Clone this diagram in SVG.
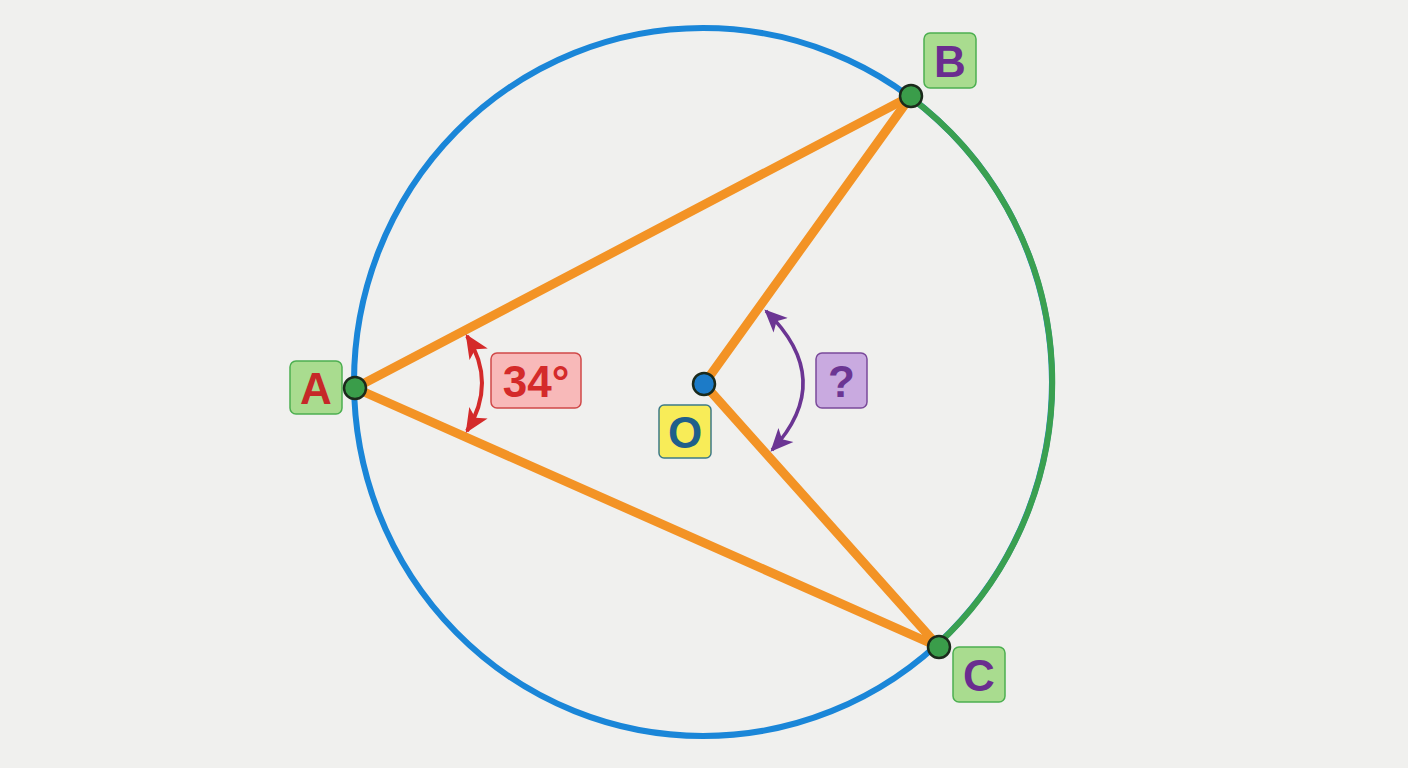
<svg xmlns="http://www.w3.org/2000/svg" width="1408" height="768" viewBox="0 0 1408 768">
<style>
.lbl{font-family:"Liberation Sans",Arial,sans-serif;font-weight:bold;font-size:44px;text-anchor:middle}
.gbox{fill:#a9dc8f;stroke:#4caf50;stroke-width:1.5}
.seg{stroke:#f39325;stroke-width:9;stroke-linecap:round;fill:none}
.pt{stroke:#1b2a1b;stroke-width:2.5}
</style>
<defs>
<marker id="ar" viewBox="0 0 10 10" refX="9" refY="5" markerWidth="6" markerHeight="6" orient="auto-start-reverse" markerUnits="strokeWidth">
<path d="M0,0.5 L10,5 L0,9.5 L2.5,5 Z" fill="#d42a2a"/>
</marker>
<marker id="ap" viewBox="0 0 10 10" refX="9" refY="5" markerWidth="6.5" markerHeight="6.5" orient="auto-start-reverse" markerUnits="strokeWidth">
<path d="M0,0.5 L10,5 L0,9.5 L2.5,5 Z" fill="#6b3593"/>
</marker>
</defs>
<rect width="1408" height="768" fill="#f0f0ee"/>
<g id="circle">
<ellipse cx="703" cy="382" rx="349" ry="354" fill="none" stroke="#1a86d8" stroke-width="6"/>
<path d="M910 97 A349 354 0 0 1 937 645" fill="none" stroke="#3aa050" stroke-width="6"/>
</g>
<g id="connectors">
<line class="seg" x1="355" y1="388" x2="911" y2="96"/>
<line class="seg" x1="355" y1="388" x2="939" y2="647"/>
<line class="seg" x1="704" y1="384" x2="911" y2="96"/>
<line class="seg" x1="704" y1="384" x2="939" y2="647"/>
<path d="M467 336 Q497 383 467 431" fill="none" stroke="#d42a2a" stroke-width="4" marker-start="url(#ar)" marker-end="url(#ar)"/>
<path d="M766 311 Q837 380 772 450" fill="none" stroke="#6b3593" stroke-width="3.5" marker-start="url(#ap)" marker-end="url(#ap)"/>
</g>
<g id="A">
<rect class="gbox" x="290" y="361" width="52" height="53" rx="6"/>
<text class="lbl" x="316" y="404" fill="#c62828">A</text>
<circle class="pt" cx="355" cy="388" r="11" fill="#3a9d4a"/>
</g>
<g id="B">
<rect class="gbox" x="924" y="33" width="52" height="55" rx="6"/>
<text class="lbl" x="950" y="77" fill="#6a2d8f">B</text>
<circle class="pt" cx="911" cy="96" r="11" fill="#3a9d4a"/>
</g>
<g id="C">
<rect class="gbox" x="953" y="647" width="52" height="55" rx="6"/>
<text class="lbl" x="979" y="691" fill="#6a2d8f">C</text>
<circle class="pt" cx="939" cy="647" r="11" fill="#3a9d4a"/>
</g>
<g id="O">
<rect x="659" y="405" width="52" height="53" rx="5" fill="#f8ec58" stroke="#3d7a86" stroke-width="1.5"/>
<text class="lbl" x="685" y="448" fill="#1f5f8b">O</text>
<circle class="pt" cx="704" cy="384" r="11" fill="#1c7bc8"/>
</g>
<g id="angle34">
<rect x="491" y="353" width="90" height="55" rx="6" fill="#f8b9b9" stroke="#d04848" stroke-width="1.5"/>
<text class="lbl" x="536" y="397" fill="#d42a2a">34°</text>
</g>
<g id="angleQ">
<rect x="816" y="353" width="51" height="55" rx="6" fill="#c9aae0" stroke="#7a4a9a" stroke-width="1.5"/>
<text class="lbl" x="841.5" y="397" fill="#6b3593">?</text>
</g>
</svg>
